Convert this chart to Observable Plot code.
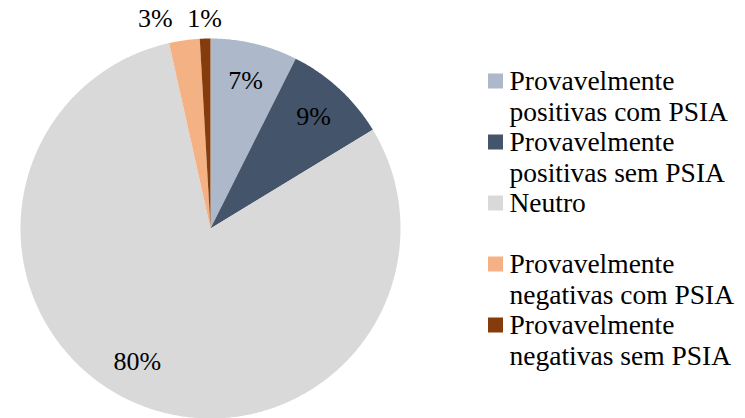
<!DOCTYPE html>
<html>
<head>
<meta charset="utf-8">
<script src="https://cdn.jsdelivr.net/npm/d3@7"></script>
<script src="https://cdn.jsdelivr.net/npm/@observablehq/plot@0.6"></script>
<style>
  html, body { margin: 0; padding: 0; background: #fff; }
  #chart svg { display: block; }
  #chart svg, #chart svg text { font-family: "Liberation Serif", "Times New Roman", Times, serif !important; }
</style>
</head>
<body>
<div id="chart"></div>
<script>
const categories = [
  "Provavelmente positivas com PSIA",
  "Provavelmente positivas sem PSIA",
  "Neutro",
  "Provavelmente negativas com PSIA",
  "Provavelmente negativas sem PSIA"
];
const legendLines = [
  ["Provavelmente", "positivas com PSIA"],
  ["Provavelmente", "positivas sem PSIA"],
  ["Neutro", ""],
  ["Provavelmente", "negativas com PSIA"],
  ["Provavelmente", "negativas sem PSIA"]
];
const values = [7.4, 8.9, 80.2, 2.6, 0.9];
const labels = ["7%", "9%", "80%", "3%", "1%"];
const colors = ["#adb9ca", "#44546a", "#d9d9d9", "#f4b183", "#843c0c"];

// layout (pixel units, pie center at origin, y up)
const W = 745, H = 418;
const cx = 210, cy = 228, R = 190;
const font = '"Liberation Serif", "Times New Roman", Times, serif';

const arcs = d3.pie().sort(null).value(d => d)(values);

const polys = [];
arcs.forEach((a, i) => {
  polys.push({cat: categories[i], x: 0, y: 0});
  const n = Math.max(2, Math.ceil((a.endAngle - a.startAngle) / (Math.PI / 360)));
  for (let k = 0; k <= n; k++) {
    const t = a.startAngle + (a.endAngle - a.startAngle) * k / n;
    polys.push({cat: categories[i], x: R * Math.sin(t), y: R * Math.cos(t)});
  }
  polys.push({cat: categories[i], x: 0, y: 0});
});

const inside = [], outside = [];
arcs.forEach((a, i) => {
  const m = (a.startAngle + a.endAngle) / 2;
  if (values[i] >= 5) {
    const big = values[i] > 50;
    const r = big ? 0.8 * R : 0.8 * R;
    const mm = big ? m + 0.1 : m;
    inside.push({label: labels[i], x: r * Math.sin(mm), y: r * Math.cos(mm)});
  } else {
    const r = R + 20;
    outside.push({label: labels[i], x: r * Math.sin(m), y: r * Math.cos(m), left: values[i] > 2});
  }
});
const outY = d3.max(outside, d => d.y);
outside.forEach(d => d.y = outY);

const legX = 488 - cx, legSq = 15, legTop = 81, lineH = 30.5;
const legRects = categories.map((c, i) => {
  const yc = cy - (legTop + 2 * lineH * i);
  return {cat: c, x1: legX, x2: legX + legSq, y1: yc - legSq / 2, y2: yc + legSq / 2};
});
const legText = [];
legendLines.forEach((ls, i) => {
  ls.forEach((t, j) => {
    if (t) legText.push({text: t, x: legX + legSq + 6, y: cy - (legTop + 2 * lineH * i + lineH * j)});
  });
});

const chart = Plot.plot({
  width: W,
  height: H,
  margin: 0,
  x: {domain: [-cx, W - cx], axis: null},
  y: {domain: [cy - H, cy], axis: null},
  color: {domain: categories, range: colors},
  style: {fontFamily: font, background: "#fff"},
  marks: [
    Plot.line(polys, {x: "x", y: "y", z: "cat", fill: "cat", stroke: null, curve: "linear"}),
    Plot.text(inside, {x: "x", y: "y", text: "label", fontSize: 26, fontFamily: font, fill: "#000"}),
    Plot.text(outside.filter(d => !d.left), {x: "x", y: "y", text: "label", fontSize: 26, fontFamily: font, fill: "#000"}),
    Plot.text(outside.filter(d => d.left), {x: "x", y: "y", text: "label", fontSize: 26, fontFamily: font, fill: "#000", textAnchor: "end", dx: -9}),
    Plot.rect(legRects, {x1: "x1", x2: "x2", y1: "y1", y2: "y2", fill: "cat"}),
    Plot.text(legText, {x: "x", y: "y", text: "text", fontSize: 27.5, fontFamily: font, fill: "#000", textAnchor: "start"})
  ]
});
document.getElementById("chart").appendChild(chart);
</script>
</body>
</html>
